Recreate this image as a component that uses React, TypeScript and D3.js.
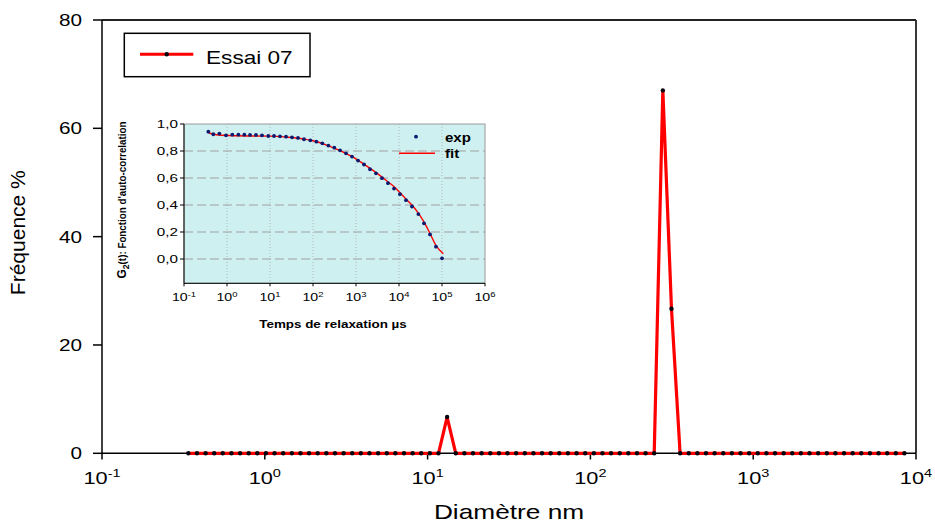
import React from 'react';
import * as d3 from 'd3';

// ---------- Main chart data ----------
const diameters = [
  0.339, 0.383, 0.433, 0.489, 0.552, 0.624, 0.705, 0.796, 0.899, 1.016,
  1.148, 1.297, 1.466, 1.656, 1.871, 2.113, 2.388, 2.698, 3.048, 3.443,
  3.890, 4.395, 4.966, 5.610, 6.339, 7.161, 8.091, 9.141, 10.33, 11.67,
  13.18, 14.89, 16.83, 19.01, 21.48, 24.27, 27.42, 30.97, 34.99, 39.54,
  44.67, 50.47, 57.02, 64.42, 72.78, 82.22, 92.90, 105.0, 118.6, 134.0,
  151.4, 171.0, 193.2, 218.3, 246.6, 278.6, 314.8, 355.6, 401.8, 453.9,
  512.9, 579.4, 654.6, 739.6, 835.6, 944.1, 1067, 1205, 1361, 1538,
  1738, 1963, 2218, 2506, 2831, 3199, 3614, 4083, 4613, 5212,
  5888, 6653, 7516, 8492,
];
const frequencies = [
  0, 0, 0, 0, 0, 0, 0, 0, 0, 0,
  0, 0, 0, 0, 0, 0, 0, 0, 0, 0,
  0, 0, 0, 0, 0, 0, 0, 0, 0, 0,
  6.7, 0, 0, 0, 0, 0, 0, 0, 0, 0,
  0, 0, 0, 0, 0, 0, 0, 0, 0, 0,
  0, 0, 0, 0, 0, 67.0, 26.7, 0, 0, 0,
  0, 0, 0, 0, 0, 0, 0, 0, 0, 0,
  0, 0, 0, 0, 0, 0, 0, 0, 0, 0,
  0, 0, 0, 0,
];
const mainXTicks = [0.1, 1, 10, 100, 1000, 10000];
const mainXTickExps = ['-1', '0', '1', '2', '3', '4'];
const mainYTicks = [0, 20, 40, 60, 80];
const seriesName = 'Essai 07';

// ---------- Inset data ----------
const tauExp = [
  0.368, 0.481, 0.664, 0.948, 1.33, 1.84, 2.53, 3.43, 4.72, 6.52,
  9.14, 12.4, 17.1, 23.6, 32.5, 44.8, 61.8, 86.7, 120, 165,
  228, 313, 425, 585, 807, 1114, 1535, 2118, 2917, 4027,
  5546, 7656, 10540, 14550, 20040, 28180, 38110, 52600, 72440, 100000,
];
const g2Exp = [
  0.943, 0.924, 0.929, 0.916, 0.921, 0.921, 0.921, 0.919, 0.919, 0.916,
  0.911, 0.911, 0.909, 0.906, 0.901, 0.897, 0.887, 0.879, 0.869, 0.857,
  0.840, 0.825, 0.805, 0.783, 0.759, 0.729, 0.700, 0.665, 0.635, 0.599,
  0.562, 0.522, 0.480, 0.436, 0.389, 0.333, 0.264, 0.182, 0.091, 0.005,
];
const tauFit = [
  0.372, 0.631, 1.585, 10, 31.6, 63.1, 100, 199.5, 398, 794, 1585,
  3162, 5495, 7586, 10470, 14450, 19950, 28180, 38020, 52480, 72440, 107200,
];
const g2Fit = [
  0.935, 0.918, 0.913, 0.910, 0.900, 0.888, 0.876, 0.846, 0.807, 0.760, 0.699,
  0.632, 0.572, 0.537, 0.492, 0.445, 0.400, 0.340, 0.275, 0.190, 0.100, 0.039,
];
const insetXTicks = [0.1, 1, 10, 100, 1000, 10000, 100000, 1000000];
const insetXTickExps = ['-1', '0', '1', '2', '3', '4', '5', '6'];
const insetYTicks = [0, 0.2, 0.4, 0.6, 0.8, 1.0];
const insetYTickLabels = ['0,0', '0,2', '0,4', '0,6', '0,8', '1,0'];

const FONT = '"Liberation Sans", Arial, sans-serif';

type STProps = {
  x: number; y: number; size: number; anchor?: string; sx?: number;
  weight?: string; fill?: string; children: React.ReactNode; dy?: string;
};
function ST({ x, y, size, anchor = 'start', sx = 1.25, weight = 'normal', fill = '#000', children, dy }: STProps) {
  return (
    <text
      transform={`translate(${x},${y}) scale(${sx},1)`}
      fontSize={size}
      textAnchor={anchor as any}
      fontWeight={weight}
      fill={fill}
      fontFamily={FONT}
      dy={dy}
    >
      {children}
    </text>
  );
}

export default function App() {
  const W = 935, H = 523;
  // main scales
  const x = d3.scaleLog().domain([0.1, 10000]).range([102, 916]);
  const y = d3.scaleLinear().domain([0, 80]).range([453.3, 20]);
  const mainLine = d3.line<number>()
    .x((_, i) => x(diameters[i]))
    .y((d) => y(d));
  const mainPath = mainLine(frequencies) || '';

  // inset scales
  const ix = d3.scaleLog().domain([0.1, 1e6]).range([184, 485]);
  const iy = d3.scaleLinear().domain([-0.18, 1.0]).range([283.3, 124]);
  const fitLine = d3.line<number>()
    .x((_, i) => ix(tauFit[i]))
    .y((d) => iy(d))
    .curve(d3.curveMonotoneX);
  const fitPath = fitLine(g2Fit) || '';

  const [ix0, ix1] = ix.range();
  const [iyb, iyt] = iy.range();

  return (
    <svg width={W} height={H} style={{ position: 'absolute', left: 0, top: 0, background: '#fff' }}
      xmlns="http://www.w3.org/2000/svg">
      <rect x={0} y={0} width={W} height={H} fill="#fff" />

      {/* frame top/right */}
      <line x1={102} x2={916} y1={20} y2={20} stroke="#222" strokeWidth={1.8} />
      <line x1={916} x2={916} y1={20} y2={453.3} stroke="#222" strokeWidth={1.8} />

      {/* y axis */}
      <line x1={102} x2={102} y1={20} y2={453.3} stroke="#000" strokeWidth={1.5} />
      {mainYTicks.map((t) => (
        <g key={'yt' + t}>
          <line x1={93} x2={102} y1={y(t)} y2={y(t)} stroke="#000" strokeWidth={1.5} />
          <ST x={82} y={y(t)} size={17} anchor="end" sx={1.22} dy="0.36em">{t}</ST>
        </g>
      ))}
      <text
        transform="translate(25,232.7) rotate(-90) scale(1,1.08)"
        fontSize={18.5}
        fontFamily={FONT}
        textAnchor="middle"
        textLength={125}
        lengthAdjust="spacingAndGlyphs"
      >Fréquence %</text>

      {/* x axis */}
      <line x1={102} x2={916} y1={453.3} y2={453.3} stroke="#000" strokeWidth={1.5} />
      {mainXTicks.map((t, i) => (
        <g key={'xt' + t}>
          <line x1={x(t)} x2={x(t)} y1={453.3} y2={459.5} stroke="#000" strokeWidth={1.5} />
          <ST x={x(t)} y={483.5} size={16.5} anchor="middle" sx={1.32}>
            10<tspan fontSize={11} dy={-7}>{mainXTickExps[i]}</tspan>
          </ST>
        </g>
      ))}
      <ST x={509} y={519} size={21} anchor="middle" sx={1.25}>Diamètre nm</ST>

      {/* main series */}
      <path d={mainPath} fill="none" stroke="#ff0000" strokeWidth={3.2} strokeLinejoin="miter" />
      {frequencies.map((v, i) => (
        <circle key={'p' + i} cx={x(diameters[i])} cy={y(v)} r={2.2} fill="#050510" />
      ))}

      {/* legend */}
      <rect x={124.3} y={33.3} width={185.7} height={43.4} fill="#fff" stroke="#000" strokeWidth={1.5} />
      <line x1={140} x2={193.3} y1={54.3} y2={54.3} stroke="#ff0000" strokeWidth={3} />
      <circle cx={166.7} cy={54.3} r={2.2} fill="#050510" />
      <ST x={206} y={64} size={19} sx={1.19}>{seriesName}</ST>

      {/* ---------- inset ---------- */}
      <rect x={ix0} y={iyt} width={ix1 - ix0} height={iyb - iyt} fill="#cff0f1" stroke="#9a9a9a" strokeWidth={1} />
      {insetXTicks.slice(1, -1).map((t) => (
        <line key={'ivg' + t} x1={ix(t)} x2={ix(t)} y1={iyt} y2={iyb} stroke="#a8a8a8" strokeWidth={0.8} strokeDasharray="1,2" />
      ))}
      {insetYTicks.slice(0, -1).map((t) => (
        <line key={'ihg' + t} x1={ix0} x2={ix1} y1={iy(t)} y2={iy(t)} stroke="#a0a0a0" strokeWidth={1} strokeDasharray="9,4" />
      ))}
      <line x1={ix0} x2={ix0} y1={iyt} y2={iyb} stroke="#000" strokeWidth={1} />
      <line x1={ix0} x2={ix1} y1={iyb} y2={iyb} stroke="#000" strokeWidth={1} />
      {insetYTicks.map((t, i) => (
        <g key={'iyt' + t}>
          <line x1={ix0 - 4} x2={ix0} y1={iy(t)} y2={iy(t)} stroke="#000" strokeWidth={1} />
          <ST x={178} y={iy(t)} size={10.5} anchor="end" sx={1.45} dy="0.36em">{insetYTickLabels[i]}</ST>
        </g>
      ))}
      {insetXTicks.map((t, i) => (
        <g key={'ixt' + t}>
          <line x1={ix(t)} x2={ix(t)} y1={iyb} y2={iyb + 3} stroke="#000" strokeWidth={1} />
          <ST x={ix(t)} y={301} size={10.5} anchor="middle" sx={1.35}>
            10<tspan fontSize={7} dy={-4.5}>{insetXTickExps[i]}</tspan>
          </ST>
        </g>
      ))}
      <ST x={333} y={328} size={11} anchor="middle" sx={1.22} weight="bold">Temps de relaxation µs</ST>
      <text
        transform="translate(126,200) rotate(-90) scale(1,1.1)"
        fontSize={10}
        fontFamily={FONT}
        fontWeight={600}
        textAnchor="middle"
        textLength={157}
        lengthAdjust="spacingAndGlyphs"
      >
        <tspan fontSize={12}>G</tspan>
        <tspan fontSize={9} dy={3}>2</tspan>
        <tspan dy={-3}>(t): Fonction d'auto-correlation</tspan>
      </text>

      <path d={fitPath} fill="none" stroke="#ff0000" strokeWidth={1.4} />
      {tauExp.map((t, i) => (
        <circle key={'e' + i} cx={ix(t)} cy={iy(g2Exp[i])} r={1.9} fill="#0b1a70" />
      ))}

      {/* inset legend */}
      <circle cx={416} cy={136.7} r={1.9} fill="#0b1a70" />
      <ST x={445} y={141.7} size={12} sx={1.25} weight="bold">exp</ST>
      <line x1={399} x2={435} y1={153.3} y2={153.3} stroke="#ff0000" strokeWidth={1.4} />
      <ST x={445} y={157.5} size={12} sx={1.25} weight="bold">fit</ST>
    </svg>
  );
}
